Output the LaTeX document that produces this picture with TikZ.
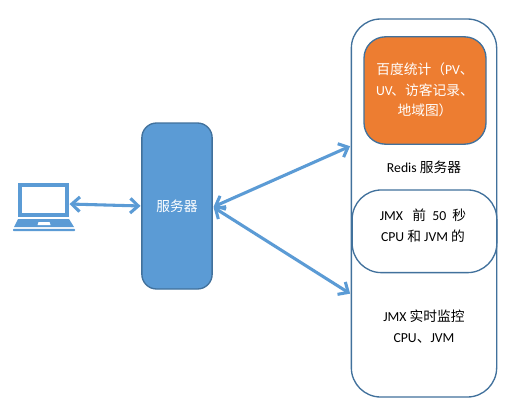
\documentclass[tikz,border=0pt]{standalone}
\usepackage{fontspec}
\setmainfont{Carlito}
\newfontfamily\cjk{Noto Sans CJK SC}
\newcommand{\zh}[1]{{\cjk\fontsize{10.3}{15.5}\selectfont #1}}
\usetikzlibrary{arrows.meta,positioning}
\definecolor{msblue}{HTML}{5B9BD5}
\definecolor{msline}{HTML}{41719C}
\definecolor{msorange}{HTML}{ED7D31}
\tikzset{
  box/.style={draw=msline,line width=1pt,rounded corners=#1,inner sep=0pt,align=center,font=\fontsize{10.3}{15.5}\selectfont},
  label/.style={inner sep=0pt,align=center,font=\fontsize{10.3}{15.5}\selectfont},
  link/.style={draw=msblue,line width=2.3pt,{Straight Barb[length=6pt,width=11pt,line width=2.3pt]}-{Straight Barb[length=6pt,width=11pt,line width=2.3pt]},shorten <=0.5pt,shorten >=0.5pt},
  lapfill/.style={fill=msblue,draw=none}
}
\begin{document}
\begin{tikzpicture}[x=0.75pt,y=-0.75pt]
\useasboundingbox[fill=white] (0,0) rectangle (514,410);
% outer
\node[box=22pt,minimum width=109pt,minimum height=283.5pt,fill=white] (outer) at (424,208) {};
% orange
\node[box=16pt,minimum width=91.5pt,minimum height=80.5pt,fill=msorange] (baidu) at (425,90.5) {};
\node[label,text=white] (baidut) at (425,90) {\zh{百度统计（}PV\zh{、}\\UV\hspace{-1pt}\zh{、访客记录、}\hspace{-2pt}\\\zh{地域图）}};
\node[label] (redis) at (424,167) {Redis \zh{服务器}};
% inner
\node[box=22pt,minimum width=108.5pt,minimum height=62pt,fill=white] (jmxa) at (424.5,231.3) {};
\node[label] (jmxat) at (423,226) {JMX\ \ \ \zh{前}\ \ 50\ \ \zh{秒}\\CPU \zh{和} JVM \zh{的}};
\node[label] (jmxb) at (424,326.5) {JMX \zh{实时监控}\\CPU\zh{、}JVM};
% server
\node[box=11pt,minimum width=52.7pt,minimum height=124.5pt,fill=msblue,text=white] (server) at (177,206) {\zh{服务器}};
% laptop
\node[draw=msblue,line width=3pt,fill=white,minimum width=35pt,minimum height=23pt,inner sep=0pt,outer sep=1.5pt] (laptop) at (43.5,200) {};
\fill[lapfill] (18,219) -- (69,219) -- (74,227) -- (14,227) -- cycle;
\fill[white] (38.5,222) -- (49.5,222) -- (50.5,225) -- (37.5,225) -- cycle;
\fill[lapfill,rounded corners=0.7pt] (13,228.8) rectangle (75,231.2);
% connectors
\coordinate (srvl) at (server.west |- 0,206);
\coordinate (lapr) at (laptop.east |- 0,204);
\coordinate (srvr) at (213,207);
\coordinate (outa) at (outer.west |- 0,146);
\coordinate (outb) at (outer.west |- 0,294);
\draw[link] (lapr) -- (srvl);
\draw[link] (srvr) -- (outa);
\draw[link] (srvr) -- (outb);
\end{tikzpicture}
\end{document}
